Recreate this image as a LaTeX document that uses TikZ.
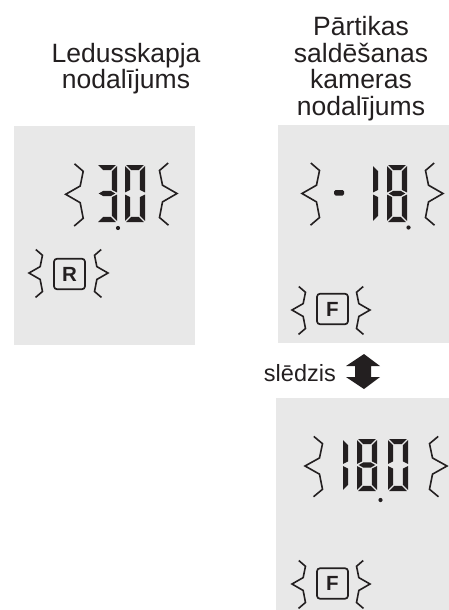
\documentclass[tikz,border=0pt]{standalone}
\usepackage{fontspec}
\setmainfont{Liberation Sans}
\definecolor{panel}{HTML}{E8E8E8}
\definecolor{ink}{HTML}{231F20}
\def\dw{20}\def\dh{57}\def\dt{5.2}\def\dg{1.1}
\newcommand{\segA}{\fill[ink] ({\dg},0) -- ({\dw-\dg},0) -- ({\dw-\dg-\dt},{\dt}) -- ({\dg+\dt},{\dt}) -- cycle;}
\newcommand{\segD}{\fill[ink] ({\dg},{\dh}) -- ({\dw-\dg},{\dh}) -- ({\dw-\dg-\dt},{\dh-\dt}) -- ({\dg+\dt},{\dh-\dt}) -- cycle;}
\newcommand{\segG}{\fill[ink] ({\dg+0.6},{\dh/2}) -- ({\dg+\dt},{\dh/2-\dt/2}) -- ({\dw-\dg-\dt},{\dh/2-\dt/2}) -- ({\dw-\dg-0.6},{\dh/2}) -- ({\dw-\dg-\dt},{\dh/2+\dt/2}) -- ({\dg+\dt},{\dh/2+\dt/2}) -- cycle;}
\newcommand{\segF}{\fill[ink] (0,{\dg}) -- ({\dt},{\dg+\dt}) -- ({\dt},{\dh/2-\dg-\dt/2}) -- (0,{\dh/2-\dg}) -- cycle;}
\newcommand{\segB}{\fill[ink] ({\dw},{\dg}) -- ({\dw-\dt},{\dg+\dt}) -- ({\dw-\dt},{\dh/2-\dg-\dt/2}) -- ({\dw},{\dh/2-\dg}) -- cycle;}
\newcommand{\segE}{\fill[ink] (0,{\dh/2+\dg}) -- ({\dt},{\dh/2+\dg+\dt/2}) -- ({\dt},{\dh-\dg-\dt}) -- (0,{\dh-\dg}) -- cycle;}
\newcommand{\segC}{\fill[ink] ({\dw},{\dh/2+\dg}) -- ({\dw-\dt},{\dh/2+\dg+\dt/2}) -- ({\dw-\dt},{\dh-\dg-\dt}) -- ({\dw},{\dh-\dg}) -- cycle;}
\newcommand{\lcddigit}[3]{\begin{scope}[shift={(#1,#2)}]\foreach \s in {#3}{\csname seg\s\endcsname}\end{scope}}
\newcommand{\zig}[4]{\draw[zigline,shift={(#1,#2)},xscale=#3,yscale=#4] (8.8,-30.5) -- (17.5,-23) -- (14.5,-8.3) -- (0,0) -- (14.5,8.4) -- (17.5,24) -- (8.5,31.7);}
\tikzset{
  zigline/.style={draw=ink,line width=1.6pt,miter limit=10},
  title/.style={font=\fontsize{26.5}{26.7}\selectfont,text=ink,anchor=north,inner sep=0,align=center},
  badge/.style={draw=ink,line width=1.7pt,rounded corners=3pt,minimum width=31pt,minimum height=30.5pt,inner sep=0,text=ink,font=\fontsize{20.5}{20.5}\selectfont\bfseries},
}
\begin{document}
\begin{tikzpicture}[x=1pt,y=-1pt]
\useasboundingbox (0,0) rectangle (449,610);
% panels
\fill[panel] (14,126) rectangle (195,345);
\fill[panel] (278,125) rectangle (449,343);
\fill[panel] (276,398) rectangle (449,610);
% titles
\node[title,font=\fontsize{26.5}{24.5}\selectfont] (tl) at (126,43.4) {Ledusskapja\\nodalījums};
\node[title] (tr) at (361,16) {Pārtikas\\saldēšanas\\kameras\\nodalījums};
% left display 3.0
\lcddigit{97}{165}{A,B,G,C,D}
\lcddigit{125}{165}{A,B,C,D,E,F}
\fill[ink] (118,228) circle (2.1);
\zig{65.7}{194.3}{1}{1}
\zig{177}{193.5}{-1}{1}
% R badge
\node[badge] (R) at (69.5,274) {R};
\zig{29}{273}{0.77}{0.77}
\zig{108}{273}{-0.77}{0.77}
% top right display -18.
\fill[ink,rounded corners=1.5pt] (334,190) rectangle (344,195.5);
\lcddigit{373}{165}{F,E}
\lcddigit{387}{165}{A,B,C,D,E,F,G}
\fill[ink] (408.5,227.5) circle (2.1);
\zig{302}{193.5}{1}{1}
\zig{443}{193.5}{-1}{1}
% F badge top
\node[badge] (F1) at (332.5,309) {F};
\zig{292}{310}{0.77}{0.77}
\zig{370}{310}{-0.77}{0.77}
% switch label and arrow
\node[font=\fontsize{23.5}{23.5}\selectfont,text=ink,anchor=base east,inner sep=0] (sw) at (336,381.7) {slēdzis};
\fill[ink] (364,354) -- (380,366) -- (371,366) -- (371,377) -- (380,377) -- (364,389) -- (346,377) -- (355,377) -- (355,366) -- (346,366) -- cycle;
% bottom display 18.0
\def\dh{52}
\lcddigit{343}{439}{F,E}
\lcddigit{357}{439}{A,B,C,D,E,F,G}
\fill[ink] (380.5,500) circle (2.1);
\lcddigit{388}{439}{A,B,C,D,E,F}
\zig{305}{466}{1}{0.97}
\zig{447}{466}{-1}{0.97}
% F badge bottom
\node[badge] (F2) at (332.5,583.5) {F};
\zig{292}{584}{0.77}{0.77}
\zig{370}{584}{-0.77}{0.77}
\end{tikzpicture}
\end{document}
